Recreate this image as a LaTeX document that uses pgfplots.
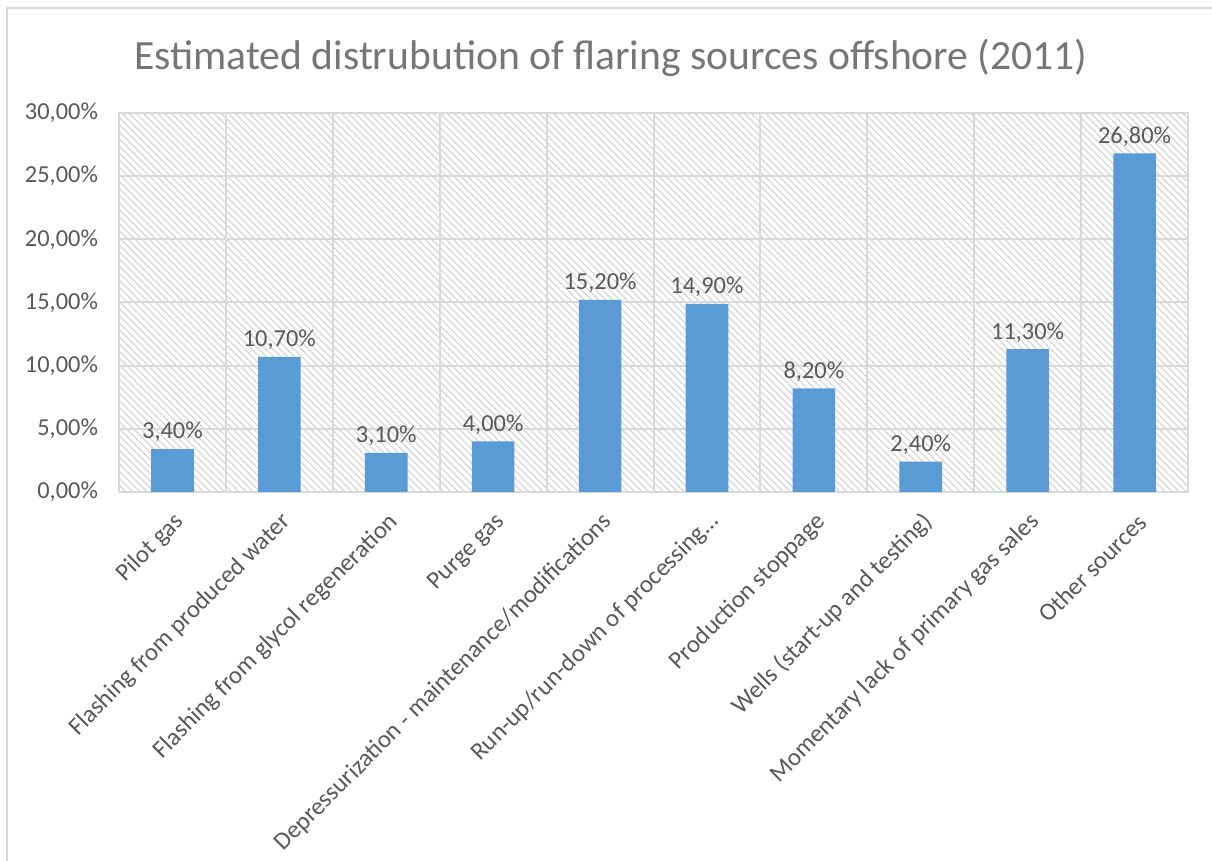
\documentclass[border=0pt]{standalone}
\usepackage{fontspec}
\setmainfont{Carlito}
\usepackage{pgfplots}
\pgfplotsset{compat=1.18}
\usetikzlibrary{patterns.meta}
\definecolor{barblue}{HTML}{5B9BD5}
\definecolor{textgray}{HTML}{595959}
\definecolor{titlegray}{HTML}{767676}
\definecolor{gridgray}{HTML}{D9D9D9}
\definecolor{hatchgray}{HTML}{D6D6D6}
\pgfkeys{/pgf/number format/assume math mode=true}
\begin{document}
\begin{tikzpicture}
\useasboundingbox (0,0) rectangle (606pt,430.5pt);
\fill[white] (0,0) rectangle (606pt,430.5pt);
\draw[gridgray, line width=1pt] (3.5pt,0) -- (3.5pt,426.5pt) -- (606pt,426.5pt);
\node[anchor=base, text=titlegray, font=\fontsize{20.8}{25}\selectfont] at (305.5pt,395.5pt) {Estimated distrubution of flaring sources offshore (2011)};
\begin{axis}[
  at={(59.5pt,184.5pt)}, anchor=south west,
  scale only axis, width=534.5pt, height=189.5pt,
  xmin=-0.5, xmax=9.5, ymin=0, ymax=30,
  axis background/.style={fill=white, postaction={pattern={Lines[angle=-45, distance=2.5pt, line width=0.6pt]}, pattern color=hatchgray}},
  ybar, bar width=21.3pt,
  xtick={0,...,9},
  xticklabels={Pilot gas, Flashing from produced water, Flashing from glycol regeneration, Purge gas, Depressurization - maintenance/modifications, Run-up/run-down of processing\dots, Production stoppage, Wells (start-up and testing), Momentary lack of primary gas sales, Other sources},
  minor xtick={-0.5,0.5,...,9.5},
  xminorgrids, ymajorgrids,
  major tick length=0pt, minor tick length=0pt,
  grid style={draw=gridgray, line width=1pt},
  minor grid style={draw=gridgray, line width=1pt},
  axis line style={draw=gridgray, line width=1pt},
  ytick={0,5,...,30},
  yticklabel={\pgfmathprintnumber[fixed, fixed zerofill, precision=2, use comma]{\tick}\%},
  yticklabel style={font=\fontsize{12.2}{14}\selectfont, text=textgray, xshift=-7pt},
  xticklabel style={rotate=45, anchor=east, font=\fontsize{12.4}{14}\selectfont, text=textgray, yshift=-12pt, xshift=-3pt},
  nodes near coords={\pgfmathprintnumber[fixed, fixed zerofill, precision=2, use comma]{\pgfplotspointmeta}\%},
  nodes near coords style={font=\fontsize{12.2}{14}\selectfont, text=textgray},
  clip=false,
]
\addplot[fill=barblue, draw=none] coordinates {(0,3.4) (1,10.7) (2,3.1) (3,4.0) (4,15.2) (5,14.9) (6,8.2) (7,2.4) (8,11.3) (9,26.8)};
\end{axis}
\end{tikzpicture}
\end{document}
